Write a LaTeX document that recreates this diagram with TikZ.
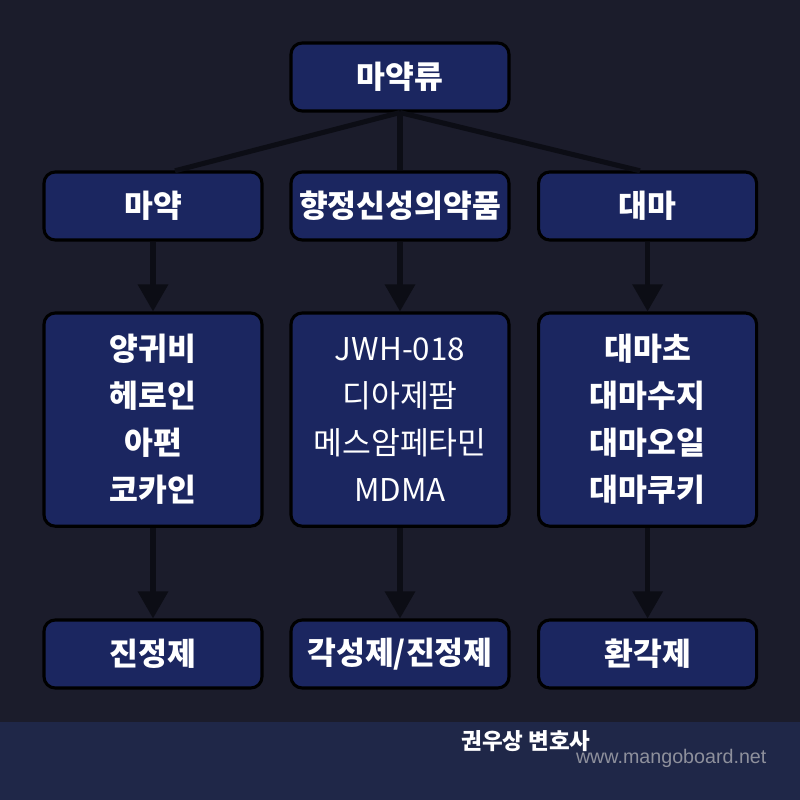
\documentclass[tikz,border=0pt]{standalone}
\usepackage{fontspec}
\setmainfont{Noto Sans CJK KR}
\newfontfamily\urlfont{Liberation Sans}
\usetikzlibrary{arrows.meta}

\definecolor{bgdark}{HTML}{1B1C2B}
\definecolor{bandblue}{HTML}{1F2748}
\definecolor{boxnavy}{HTML}{1B2660}
\definecolor{linedark}{HTML}{0C0D15}
\definecolor{urlgray}{HTML}{8E909C}

\tikzset{
    catbox/.style={draw=black, line width=2.2pt, fill=boxnavy, rounded corners=0.28cm,
        minimum width=5.45cm, minimum height=1.7cm, text=white, align=center,
        font=\fontsize{22.3}{33.4}\selectfont\bfseries},
    listbox/.style={catbox, minimum height=5.33cm},
    link/.style={draw=linedark, line width=3.6pt},
    flow/.style={link, -{Triangle[width=0.74cm,length=0.68cm]}}
}

\begin{document}
\begin{tikzpicture}
            \fill [bgdark] (0,0) rectangle (20,-20);
            \fill [bandblue] (0,-18.05) rectangle (20,-20);
            \useasboundingbox (0,0) rectangle (20,-20);
            % top level
            \node [catbox] (ryu) at (10,-1.925) {마약류};
            % categories
            \node [catbox] (yak) at (3.825,-5.15) {마약};
            \node [catbox] (hyang) at (10,-5.15) {향정신성의약품};
            \node [catbox] (daema) at (16.19,-5.15) {대마};
            % lists of drugs
            \node [listbox] (yakList) at (3.825,-10.49)
                {양귀비\\헤로인\\아편\\코카인};
            \node [listbox, font=\fontsize{22.3}{33.4}\selectfont] (hyangList)
                at (10,-10.49) {JWH-018\\디아제팜\\메스암페타민\\MDMA};
            \node [listbox] (daemaList) at (16.19,-10.49)
                {대마초\\대마수지\\대마오일\\대마쿠키};
            % effects
            \node [catbox] (jinjeong) at (3.825,-16.35) {진정제};
            \node [catbox] (gakseong) at (10,-16.35) {각성제/진정제};
            \node [catbox] (hwangak) at (16.19,-16.35) {환각제};
            % branches
            \coordinate (yakTop) at (4.375,-4.27);
            \coordinate (daemaTop) at (16.0,-4.27);
            \draw [link] (ryu.south) -- (yakTop);
            \draw [link] (ryu.south) -- (hyang.north);
            \draw [link] (ryu.south) -- (daemaTop);
            \draw [flow] (yak.south) -- (yakList.north);
            \draw [flow] (hyang.south) -- (hyangList.north);
            \draw [flow] (daema.south) -- (daemaList.north);
            \draw [flow] (yakList.south) -- (jinjeong.north);
            \draw [flow] (hyangList.south) -- (gakseong.north);
            \draw [flow] (daemaList.south) -- (hwangak.north);
            % footer
            \node [text=white, font=\fontsize{16}{18}\selectfont\bfseries]
                (lawyer) at (13.15,-18.52) {권우상 변호사};
            \node [text=urlgray, font=\urlfont\fontsize{14}{16}\selectfont]
                (site) at (16.78,-18.95) {www.mangoboard.net};
        \end{tikzpicture}
\end{document}
